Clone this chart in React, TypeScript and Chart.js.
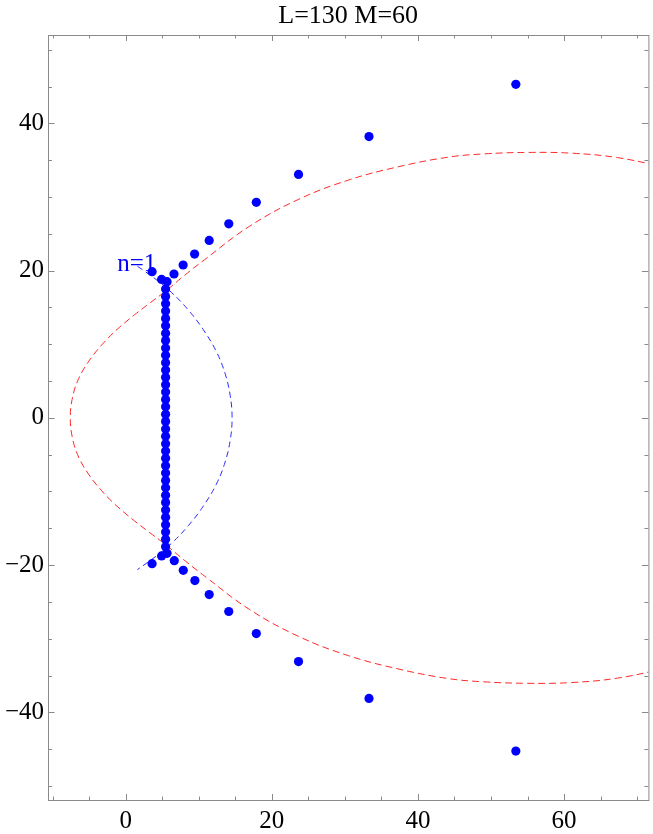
import React, { useEffect, useRef } from "react";
import { Chart, registerables } from "chart.js";

Chart.register(...registerables);

// ---------- text ----------
const TITLE = "L=130 M=60";
const LABEL_TEXT = "n=1";
const LABEL_X = 1.5;
const LABEL_Y = 20.0;

// ---------- axes ----------
const X_MIN = -10.65;
const X_MAX = 71.55;
const Y_MIN = -51.9;
const Y_MAX = 52.0;
const X_TICKS = [-10, -5, 0, 5, 10, 15, 20, 25, 30, 35, 40, 45, 50, 55, 60, 65, 70];
const X_LABELS = [0, 20, 40, 60];
const Y_TICKS = [-50, -45, -40, -35, -30, -25, -20, -15, -10, -5, 0, 5, 10, 15, 20, 25, 30, 35, 40, 45, 50];
const Y_LABELS = [-40, -20, 0, 20, 40];

// ---------- blue dots ----------
const upperArmX = [3.6, 4.9, 5.65, 6.6, 7.85, 9.42, 11.42, 14.1, 17.87, 23.65, 33.3, 53.4];
const upperArmY = [19.85, 18.8, 18.5, 19.54, 20.76, 22.25, 24.1, 26.35, 29.27, 33.07, 38.2, 45.3];
const lowerArmX = [3.6, 4.9, 5.65, 6.64, 7.87, 9.46, 11.42, 14.1, 17.87, 23.65, 33.3, 53.4];
const lowerArmY = [-19.8, -18.75, -18.4, -19.4, -20.7, -22.1, -24.0, -26.3, -29.3, -33.1, -38.1, -45.25];
const columnX = 5.45;
const columnY = [
  17.5, 16.5, 15.5, 14.5, 13.5, 12.5, 11.5, 10.5, 9.5, 8.5, 7.5, 6.5, 5.5, 4.5, 3.5, 2.5, 1.5, 0.5,
  -0.5, -1.5, -2.5, -3.5, -4.5, -5.5, -6.5, -7.5, -8.5, -9.5, -10.5, -11.5, -12.5, -13.5, -14.5, -15.5, -16.5, -17.5,
];

// ---------- red dashed curve ----------
const redCurveX = [
  74, 67.3, 61, 55, 49, 44.1, 37.3, 30.5, 23.7, 16.9, 10.8, 8.1, 5.3, 3.3, 1.2, -1.2, -3.3, -5.2, -6.6, -7.35, -7.6,
  -7.35, -6.6, -5.2, -3.3, -1.2, 1.2, 3.3, 5.3, 8.1, 10.8, 16.9, 23.7, 30.5, 37.3, 44.1, 49, 55, 61, 67.3, 74,
];
const redCurveY = [
  34.0, 35.35, 35.95, 36.05, 35.85, 35.4, 34.1, 32.3, 29.7, 26.0, 21.5, 19.4, 17.1, 15.6, 14.0, 12.0, 9.9, 7.5, 5.0, 2.5, 0,
  -2.5, -5.0, -7.5, -9.9, -12.0, -14.0, -15.6, -17.1, -19.4, -21.5, -26.0, -29.7, -32.3, -34.1, -35.4, -35.85, -36.05, -35.95, -35.35, -34.0,
];

// ---------- blue dashed curve ----------
const blueCurveX = [1.6, 4.0, 6.3, 8.6, 10.6, 12.4, 13.6, 14.3, 14.55, 14.3, 13.6, 12.4, 10.6, 8.6, 6.3, 4.0, 1.6];
const blueCurveY = [20.6, 18.9, 17.0, 14.6, 12.0, 9.0, 6.0, 3.0, 0, -3.0, -6.0, -9.0, -12.0, -14.6, -17.0, -18.9, -20.6];

const SERIF = "'Liberation Serif', 'Times New Roman', 'DejaVu Serif', serif";
const FRAME_COLOR = "#8a8a8a";

const fmt = (v: number) => (v < 0 ? "\u2212" + Math.abs(v) : String(v));

const framePlugin = {
  id: "mmaFrame",
  afterDatasetsDraw(chart: any) {
    const { ctx, chartArea, scales } = chart;
    const { left, right, top, bottom } = chartArea;
    ctx.save();
    ctx.strokeStyle = FRAME_COLOR;
    ctx.lineWidth = 1;
    ctx.strokeRect(left + 0.5, top + 0.5, right - left, bottom - top);
    ctx.beginPath();
    for (const t of scales.x.ticks) {
      const v = t.value;
      const px = Math.round(scales.x.getPixelForValue(v)) + 0.5;
      const len = v % 20 === 0 ? 6 : 3.5;
      ctx.moveTo(px, bottom);
      ctx.lineTo(px, bottom - len);
      ctx.moveTo(px, top);
      ctx.lineTo(px, top + len);
    }
    for (const t of scales.y.ticks) {
      const v = t.value;
      const py = Math.round(scales.y.getPixelForValue(v)) + 0.5;
      const len = v % 20 === 0 ? 6.5 : 4;
      ctx.moveTo(left, py);
      ctx.lineTo(left + len, py);
      ctx.moveTo(right, py);
      ctx.lineTo(right - len, py);
    }
    ctx.stroke();

    // n=1 label
    ctx.fillStyle = "#0000ff";
    ctx.font = `25px ${SERIF}`;
    ctx.textAlign = "center";
    ctx.textBaseline = "alphabetic";
    ctx.fillText(LABEL_TEXT, scales.x.getPixelForValue(LABEL_X), scales.y.getPixelForValue(LABEL_Y));
    ctx.restore();
  },
  afterDraw(chart: any) {
    const { ctx, chartArea } = chart;
    ctx.save();
    ctx.fillStyle = "#000";
    ctx.font = `26px ${SERIF}`;
    ctx.textAlign = "center";
    ctx.textBaseline = "alphabetic";
    ctx.fillText(TITLE, (chartArea.left + chartArea.right) / 2, 23);
    ctx.restore();
  },
};

export default function App() {
  const canvasRef = useRef<HTMLCanvasElement | null>(null);

  useEffect(() => {
    document.body.style.margin = "0";
    document.body.style.overflow = "hidden";
    const canvas = canvasRef.current;
    if (!canvas) return;

    const dots = [
      ...upperArmX.map((x, i) => ({ x, y: upperArmY[i] })),
      ...columnY.map((y) => ({ x: columnX, y })),
      ...lowerArmX.map((x, i) => ({ x, y: lowerArmY[i] })),
    ];
    const red = redCurveX.map((x, i) => ({ x, y: redCurveY[i] }));
    const blue = blueCurveX.map((x, i) => ({ x, y: blueCurveY[i] }));

    const chart = new Chart(canvas, {
      type: "scatter",
      data: {
        datasets: [
          {
            type: "scatter",
            data: dots,
            showLine: false,
            pointRadius: 4.6,
            pointHoverRadius: 4.6,
            pointBackgroundColor: "#0000ff",
            pointBorderWidth: 0,
            borderColor: "#0000ff",
          },
          {
            type: "line",
            data: blue,
            pointRadius: 0,
            fill: false,
            borderColor: "#2a2aff",
            borderWidth: 1,
            borderDash: [6, 4],
            tension: 0.4,
          },
          {
            type: "line",
            data: red,
            pointRadius: 0,
            fill: false,
            borderColor: "#ff2a2a",
            borderWidth: 1,
            borderDash: [7, 4],
            tension: 0.4,
          },
        ],
      },
      options: {
        animation: false,
        responsive: false,
        events: [],
        layout: { padding: { top: 35, right: 2, left: 0, bottom: 0 } },
        plugins: { legend: { display: false }, tooltip: { enabled: false }, title: { display: false } },
        scales: {
          x: {
            type: "linear",
            min: X_MIN,
            max: X_MAX,
            grid: { display: false, drawTicks: false },
            border: { display: false },
            afterBuildTicks: (scale: any) => {
              scale.ticks = X_TICKS.map((value) => ({ value }));
            },
            afterFit: (scale: any) => {
              scale.height = 34;
            },
            ticks: {
              autoSkip: false,
              maxRotation: 0,
              padding: 6,
              color: "#000",
              font: { family: SERIF, size: 25 },
              callback: (v: any) => (X_LABELS.includes(Number(v)) ? fmt(Number(v)) : ""),
            },
          },
          y: {
            type: "linear",
            min: Y_MIN,
            max: Y_MAX,
            grid: { display: false, drawTicks: false },
            border: { display: false },
            afterBuildTicks: (scale: any) => {
              scale.ticks = Y_TICKS.map((value) => ({ value }));
            },
            afterFit: (scale: any) => {
              scale.width = 48;
            },
            ticks: {
              autoSkip: false,
              padding: 4,
              color: "#000",
              font: { family: SERIF, size: 25 },
              callback: (v: any) => (Y_LABELS.includes(Number(v)) ? fmt(Number(v)) : ""),
            },
          },
        },
      },
      plugins: [framePlugin],
    } as any);

    return () => chart.destroy();
  }, []);

  return (
    <div style={{ width: 653, height: 834 }}>
      <canvas ref={canvasRef} width={653} height={834} style={{ display: "block", width: 653, height: 834 }} />
    </div>
  );
}
